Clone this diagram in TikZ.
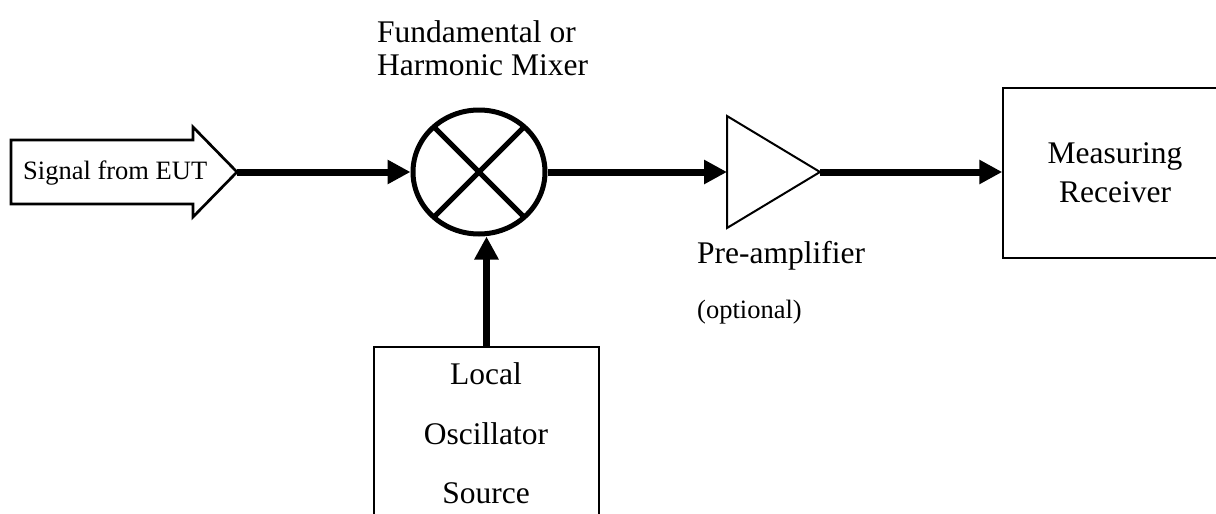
\documentclass[tikz,border=0pt]{standalone}
\usepackage{fontspec}
\setmainfont{Liberation Serif}
\usetikzlibrary{arrows.meta,shapes.geometric}
\begin{document}
\begin{tikzpicture}[x=1pt,y=-1pt,
  conn/.style={line width=7pt,-{Triangle[length=23pt,width=23pt]}},
  big/.style={font=\fontsize{31.5}{33}\selectfont},
  small/.style={font=\fontsize{26.5}{28}\selectfont},
  lbl/.style={inner sep=0pt},
  box/.style={draw,line width=1.5pt,rectangle,inner sep=0pt}]
\useasboundingbox (0,0) rectangle (1216,514);
\clip (0,0) rectangle (1216,514);
% signal arrow
\draw[line width=2.7pt,line join=miter] (11,140) -- (193,140) -- (193,127) -- (237,172) -- (193,217) -- (193,204) -- (11,204) -- cycle;
\coordinate (sigtip) at (237,172);
\node[lbl,small,anchor=base west] (sigtext) at (23,179) {Signal from EUT};
% mixer
\node[ellipse,draw,line width=5pt,minimum width=132pt,minimum height=124pt,inner sep=0pt] (mixer) at (479,172) {};
\draw[line width=5pt,shorten <=2.5pt,shorten >=2.5pt] (mixer.45) -- (mixer.225);
\draw[line width=5pt,shorten <=2.5pt,shorten >=2.5pt] (mixer.135) -- (mixer.315);
\node[lbl,big,anchor=base west] (mx1) at (377,42) {Fundamental or};
\node[lbl,big,anchor=base west] (mx2) at (377,75) {Harmonic Mixer};
% amplifier
\coordinate (ampL) at (727,172);
\coordinate (ampR) at (820,172);
\draw[line width=2pt,line join=miter] (727,116) -- (ampR) -- (727,228) -- cycle;
\node[lbl,big,anchor=base west] (amp1) at (697,263) {Pre-amplifier};
\node[lbl,small,anchor=base west] (amp2) at (697,318) {(optional)};
% receiver
\node[box,minimum width=225pt,minimum height=170pt] (rx) at (1115.5,173) {};
\node[lbl,big,anchor=base] (rx1) at (1115,163) {Measuring};
\node[lbl,big,anchor=base] (rx2) at (1115,202) {Receiver};
% local oscillator
\node[box,minimum width=225pt,minimum height=200pt,anchor=north] (lo) at (486.5,346) {};
\node[lbl,big,anchor=base] (lo1) at (486,384) {Local};
\node[lbl,big,anchor=base] (lo2) at (486,444) {Oscillator};
\node[lbl,big,anchor=base] (lo3) at (486,503) {Source};
% connectors
\draw[conn] (sigtip) -- (mixer.west);
\draw[conn] (mixer.east) -- (ampL);
\draw[conn] (ampR) -- (ampR -| rx.west);
\draw[conn] (lo.north) -- (lo.north |- mixer.south);
\end{tikzpicture}
\end{document}
